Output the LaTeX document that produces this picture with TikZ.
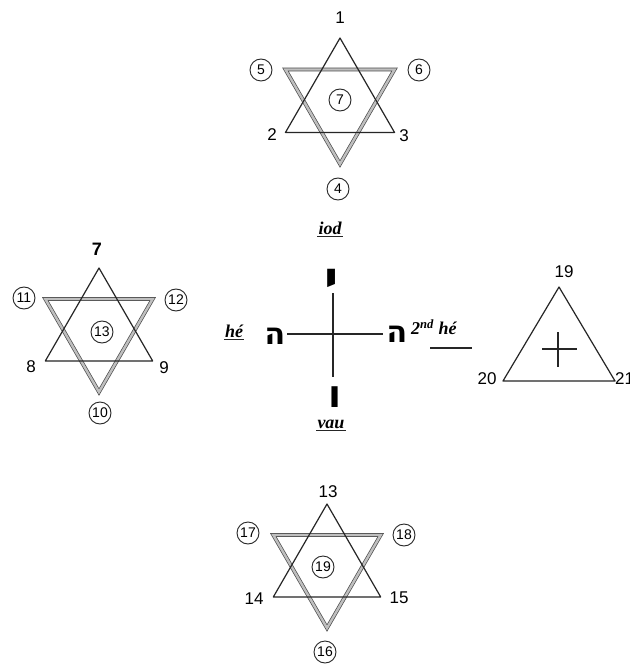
\documentclass[tikz,border=0pt]{standalone}
\usepackage{fontspec}
\setmainfont{Liberation Sans}
\newfontfamily\hebfont[Script=Hebrew]{DejaVu Sans}
\newfontfamily\handfont{Liberation Serif}
\TeXXeTstate=1
\begin{document}
\begin{tikzpicture}[x=1pt,y=-1pt,
  tri/.style={draw=black!85,line width=1.2pt,line join=round},
  ribbon/.style={draw=black!70,line width=0.7pt,double=black!25,double distance=2.4pt,line join=miter},
  num/.style={inner sep=0pt,font=\fontsize{17}{17}\selectfont},
  cnum/.style={draw=black!85,line width=0.9pt,circle,minimum size=22pt,inner sep=0pt,font=\fontsize{14}{14}\selectfont},
  heb/.style={inner sep=0pt,font=\hebfont\bfseries\fontsize{30}{30}\selectfont},
  word/.style={inner sep=1pt,font=\handfont\itshape\bfseries\fontsize{18}{18}\selectfont},
  uline/.style={draw=black!85,line width=1.1pt},
  hexagram/.pic={
    \draw[ribbon] (0,#1) -- (0.866*#1,-0.5*#1) -- (-0.866*#1,-0.5*#1) -- cycle;
    \draw[tri] (0,-#1) -- (-0.866*#1,0.5*#1) -- (0.866*#1,0.5*#1) -- cycle;
  }]
\useasboundingbox (0,0) rectangle (629,668);
\fill[white] (0,0) rectangle (629,668);

% top star
\pic at (340,101) {hexagram=63};
\node[num] (t1) at (340,18) {1};
\node[cnum] (t5) at (261,70) {5};
\node[cnum] (t6) at (419,70) {6};
\node[cnum] (t7) at (340,100) {7};
\node[num] (t2) at (272,135) {2};
\node[num] (t3) at (404,136) {3};
\node[cnum] (t4) at (338,189) {4};
\node[word] (iod) at (330,228) {iod};
\draw[uline] ([yshift=-1pt]iod.south west) -- ([yshift=-1pt]iod.south east);

% left star
\pic at (99,330) {hexagram=62};
\node[num,font=\bfseries\fontsize{18}{18}\selectfont] (l7) at (97,249) {7};
\node[cnum] (l11) at (24,298) {11};
\node[cnum] (l12) at (176,300) {12};
\node[cnum] (l13) at (102,332) {13};
\node[num] (l8) at (31,367) {8};
\node[num] (l9) at (164,368) {9};
\node[cnum] (l10) at (100,413) {10};

% cross of Hebrew letters
\coordinate (ctop) at (333,293);
\coordinate (cbot) at (333,377);
\coordinate (cleft) at (287,334);
\coordinate (cright) at (383,334);
\draw[line width=1.3pt,black!85] (ctop) -- (cbot);
\draw[line width=1.3pt,black!85] (cleft) -- (cright);
\node[heb,font=\hebfont\bfseries\fontsize{48}{48}\selectfont] (yod) at (332,282) {\beginR י\endR};
\node[heb] (he1) at (275,336) {\beginR ה\endR};
\node[heb] (he2) at (397,334) {\beginR ה\endR};
\node[heb,font=\hebfont\bfseries\fontsize{38}{38}\selectfont] (vau) at (335,397) {\beginR ו\endR};
\node[word] (he) at (234,331) {hé};
\draw[uline] ([yshift=-1pt]he.south west) -- ([yshift=-1pt]he.south east);
\node[word,anchor=west] (he2nd) at (410,327) {2\textsuperscript{nd} hé};
\draw[uline] (430,348) -- (472,348);
\node[word] (vauw) at (331,424) {vau};
\draw[uline] ([yshift=-1pt]vauw.south west) -- ([yshift=-1pt]vauw.south east);

% right triangle
\coordinate (r19) at (559,287);
\coordinate (r20) at (503,381);
\coordinate (r21) at (615,381);
\draw[tri] (r19) -- (r20) -- (r21) -- cycle;
\draw[line width=1.2pt,black!85] (542,349) -- (577,349);
\draw[line width=1.2pt,black!85] (558,332) -- (558,367);
\node[num] (n19) at (564,272) {19};
\node[num] (n20) at (487,379) {20};
\node[num,anchor=west] (n21) at (615,379) {21};

% bottom star
\pic at (327,566) {hexagram=62};
\node[num] (b13) at (328,492) {13};
\node[cnum] (b17) at (248,533) {17};
\node[cnum] (b18) at (404,535) {18};
\node[cnum] (b19) at (323,567) {19};
\node[num] (b14) at (254,599) {14};
\node[num] (b15) at (399,598) {15};
\node[cnum] (b16) at (325,652) {16};
\end{tikzpicture}
\end{document}
